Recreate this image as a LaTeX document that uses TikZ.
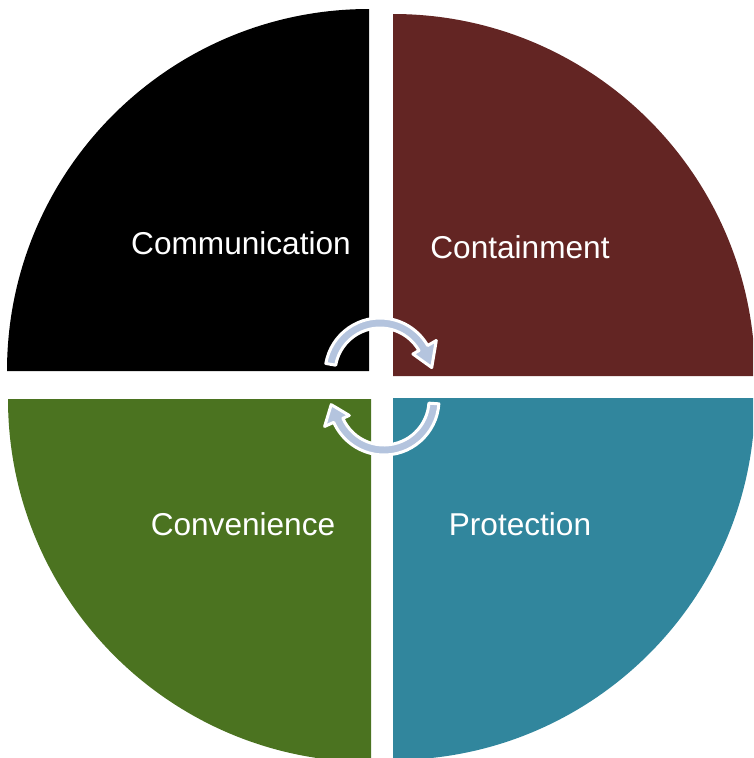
\documentclass[tikz,border=0pt]{standalone}
\usepackage{fontspec}
\setmainfont{Liberation Sans}
\definecolor{qblack}{HTML}{000000}
\definecolor{qmaroon}{HTML}{632523}
\definecolor{qgreen}{HTML}{4B7320}
\definecolor{qteal}{HTML}{31869D}
\definecolor{arrowblue}{HTML}{B4C4DE}
\begin{document}
\begin{tikzpicture}[x=1pt,y=-1pt,
  cyclearrow/.style={fill=arrowblue,draw=white,line width=3pt,line join=round},
  label/.style={text=white,font=\fontsize{31.6}{36}\selectfont,anchor=base,inner sep=0pt}]
\useasboundingbox (0,0) rectangle (753,758);
\clip (0,0) rectangle (753,758);
% quarters
\fill[qblack] (369,371) -- ++(-362,0) arc[start angle=180,end angle=270,radius=362] -- cycle;
\fill[qmaroon] (393,376) -- ++(0,-362) arc[start angle=270,end angle=360,radius=362] -- cycle;
\fill[qgreen] (371,399) -- ++(-363,0) arc[start angle=180,end angle=90,radius=363] -- cycle;
\fill[qteal] (393,398) -- ++(362,0) arc[start angle=0,end angle=90,radius=362] -- cycle;
% labels
\node[label] (comm) at (241,254) {Communication};
\node[label] (cont) at (520,258) {Containment};
\node[label] (conv) at (243,535) {Convenience};
\node[label] (prot) at (520,535) {Protection};
% cycle arrows
\begin{scope}[shift={(380,373)}]
\draw[cyclearrow] (190:55) arc[start angle=190,end angle=330,radius=55]
  -- (330:65) -- (354:52) -- (330:38) -- (330:45)
  arc[start angle=330,end angle=190,radius=45] -- cycle;
\end{scope}
\begin{scope}[shift={(384,400)}]
\draw[cyclearrow] (4:55) arc[start angle=4,end angle=156,radius=55]
  -- (156:65) -- (175:53) -- (156:38) -- (156:45)
  arc[start angle=156,end angle=4,radius=45] -- cycle;
\end{scope}
\end{tikzpicture}
\end{document}
